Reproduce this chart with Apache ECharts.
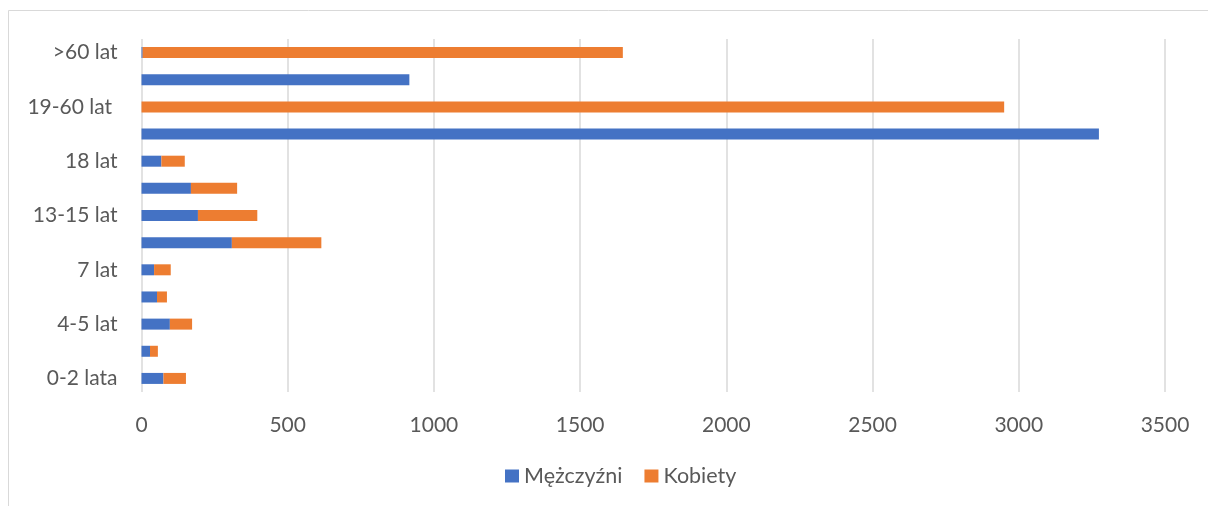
<!DOCTYPE html>
<html>
<head>
<meta charset="utf-8">
<script src="https://cdn.jsdelivr.net/npm/echarts@6/dist/echarts.min.js"></script>
<style>
  html, body { margin: 0; padding: 0; background: #fff; }
  #chart { width: 1208px; height: 506px; }
</style>
</head>
<body>
<div id="chart"></div>
<script>
// grupy wiekowe (od dołu do góry)
var categories = ['0-2 lata', '3 lata', '4-5 lat', '6 lat', '7 lat', '8-12 lat', '13-15 lat',
                  '16-17 lat', '18 lat', '19-60 lat (M)', '19-60 lat ', '>60 lat (M)', '>60 lat'];
var men   = [75, 29, 97, 53, 43, 309, 193, 169, 68, 3274, 0, 916, 4];
var women = [77, 27, 76, 34, 57, 306, 203, 158, 80, 0, 2950, 0, 1642];
var xTicks = [0, 500, 1000, 1500, 2000, 2500, 3000, 3500];

var textColor = '#595959';
var font = 'Lato';

var myChart = echarts.init(document.getElementById('chart'));

var option = {
    animation: false,
    backgroundColor: '#fff',
    graphic: [{
        type: 'rect',
        shape: { x: 8.5, y: 10.5, width: 1220, height: 520 },
        style: { fill: 'none', stroke: '#d9d9d9', lineWidth: 1 }
    }],
    grid: { left: 141.5, right: 43, top: 39, bottom: 114, containLabel: false },
    legend: {
        top: 460,
        left: 500,
        itemWidth: 14,
        itemHeight: 13,
        itemGap: 22,
        icon: 'rect',
        textStyle: { color: textColor, fontFamily: font, fontSize: 21.5, padding: [0, 0, 0, 0] },
        data: ['Mężczyźni', 'Kobiety']
    },
    xAxis: {
        type: 'value',
        min: xTicks[0],
        max: xTicks[xTicks.length - 1],
        interval: 500,
        axisLine: { show: false },
        axisTick: { show: false },
        splitLine: { show: true, lineStyle: { color: '#d9d9d9', width: 1.5 } },
        axisLabel: {
            color: textColor, fontFamily: font, fontSize: 21, margin: 23,
            formatter: function (v) { return String(v); }
        }
    },
    yAxis: {
        type: 'category',
        data: categories,
        axisLine: { show: false },
        axisTick: { show: false },
        axisLabel: { interval: 1, color: textColor, fontFamily: font, fontSize: 21, margin: 24 }
    },
    series: [
        {
            name: 'Mężczyźni',
            type: 'bar',
            stack: 'total',
            barWidth: 11,
            itemStyle: { color: '#4472C4' },
            data: men
        },
        {
            name: 'Kobiety',
            type: 'bar',
            stack: 'total',
            barWidth: 11,
            itemStyle: { color: '#ED7D31' },
            data: women
        }
    ]
};
myChart.setOption(option);
</script>
</body>
</html>
